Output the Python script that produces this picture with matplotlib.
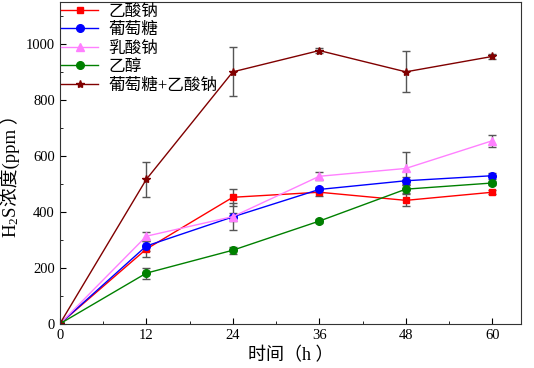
import numpy as np
import matplotlib
matplotlib.use("Agg")
from matplotlib import pyplot as plt
from matplotlib.ticker import MultipleLocator

plt.rcParams['font.family'] = ['Liberation Serif', 'Noto Sans CJK SC']
plt.rcParams['mathtext.fontset'] = 'custom'
plt.rcParams['mathtext.rm'] = 'Liberation Serif'
plt.rcParams['mathtext.it'] = 'Liberation Serif'

hours = [0, 12, 24, 36, 48, 60]
labels = ["乙酸钠", "葡萄糖", "乳酸钠", "乙醇", "葡萄糖+乙酸钠"]

naac = [0, 267, 452, 470, 441, 470]
naac_err = [0, 30, 30, 12, 21, 8]
glucose = [0, 278, 382, 480, 511, 529]
glucose_err = [0, 18, 15, 10, 15, 10]
nalac = [0, 313, 383, 527, 555, 654]
nalac_err = [0, 15, 48, 14, 57, 22]
ethanol = [0, 181, 263, 367, 481, 503]
ethanol_err = [0, 20, 12, 8, 15, 8]
mix = [0, 516, 900, 976, 900, 955]
mix_err = [0, 62, 88, 10, 73, 8]

series = [naac, glucose, nalac, ethanol, mix]
errs = [naac_err, glucose_err, nalac_err, ethanol_err, mix_err]
colors = ["#ff0000", "#0000ff", "#ff80ff", "#008000", "#800000"]
markers = ["s", "o", "^", "o", "*"]
msizes = [5, 5.5, 6, 5.5, 6]

W, H = 534, 368
fig = plt.figure(figsize=(W / 100, H / 100), dpi=100)
ax = fig.add_axes([0.112, 0.12, 0.864, 0.875])

for y, e, c, m, ms, lab in zip(series, errs, colors, markers, msizes, labels):
    ax.errorbar(hours, y, yerr=e, color=c, marker=m, markersize=ms, lw=1,
                ecolor="#555555", elinewidth=1, capsize=3, capthick=1, label=lab)

ax.set_xlim(0, 64)
ax.set_ylim(0, 1150)
ax.set_xticks(hours)
ax.xaxis.set_minor_locator(MultipleLocator(6))
ax.yaxis.set_major_locator(MultipleLocator(200))
ax.yaxis.set_minor_locator(MultipleLocator(100))
ax.tick_params(which='both', direction='in', labelsize=10.5)
ax.tick_params(which='major', length=4)
ax.tick_params(which='minor', length=2)
for s in ax.spines.values():
    s.set_color("#333333")

ax.set_xlabel("时间（h ）", fontsize=13, labelpad=4)

handles, labs = ax.get_legend_handles_labels()
handles = [h[0] for h in handles]
ax.legend(handles, labs, loc='upper left', frameon=False, fontsize=12,
          handlelength=2.2, labelspacing=0.15, borderaxespad=0.1,
          borderpad=0.0, handletextpad=0.6)

# y label in two pieces: mathtext has no CJK fallback
ylx, yly = 16 / W, 130 / H
t1 = fig.text(ylx, yly, "H$_2$S", fontsize=13.5, rotation=90,
              rotation_mode='anchor', ha='left', va='baseline')
fig.canvas.draw()
bb = t1.get_window_extent()
fig.text(ylx, yly + bb.height / H, "浓度(ppm ）", fontsize=13.5, rotation=90,
         rotation_mode='anchor', ha='left', va='baseline')

plt.savefig("out.png", dpi=100)
